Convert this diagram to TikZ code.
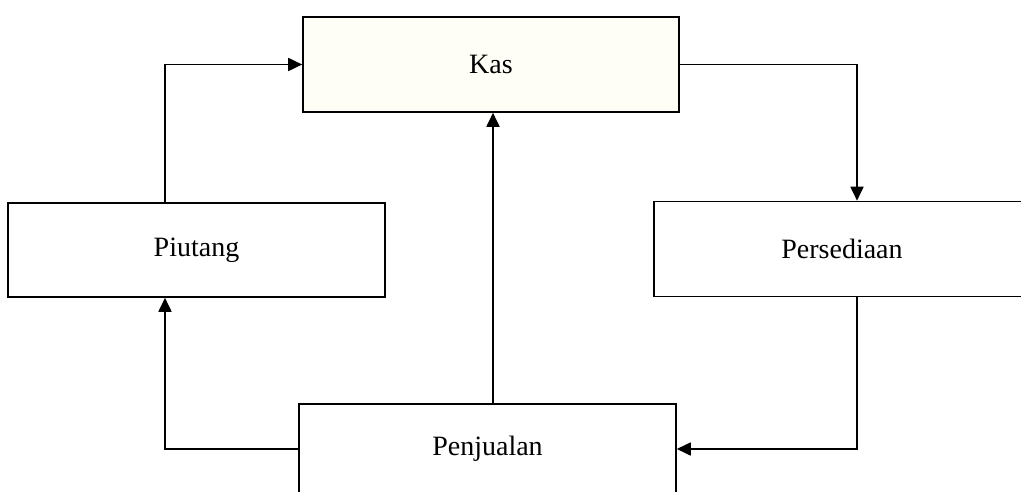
\documentclass[tikz,border=0pt]{standalone}
\usepackage{fontspec}
\setmainfont{Liberation Serif}
\usetikzlibrary{arrows.meta}
\definecolor{kascream}{RGB}{254,253,246}
\begin{document}
\begin{tikzpicture}[x=1pt,y=-1pt,
  box/.style={draw=black,line width=1.6pt,fill=white,inner sep=0pt,
    font=\fontsize{28}{34}\selectfont},
  flow/.style={draw=black,line width=1.8pt,-{Triangle[length=14pt,width=13pt]}}]
\useasboundingbox (0,0) rectangle (1021,492);
\node[box, fill=kascream, minimum width=376pt, minimum height=95pt] (kas) at (491,64.5) {Kas};
\node[box, minimum width=377pt, minimum height=94pt] (piutang) at (196.5,250) {Piutang};
\node[box, minimum width=376pt, minimum height=95pt] (pers) at (842,249) {Persediaan};
\node[box, minimum width=377pt, minimum height=90pt] (pen) at (487.5,449) {Penjualan};
\coordinate (cl) at (165,0);
\coordinate (cr) at (857,0);
\coordinate (cm) at (493,0);
\draw[flow] (cl |- piutang.north) -- (cl |- kas.west) -- (kas.west);
\draw[flow] (kas.east) -- (cr |- kas.east) -- (cr |- pers.north);
\draw[flow] (cr |- pers.south) -- (cr |- pen.east) -- (pen.east);
\draw[flow] (pen.west) -- (cl |- pen.west) -- (cl |- piutang.south);
\draw[flow] (cm |- pen.north) -- (cm |- kas.south);
\end{tikzpicture}
\end{document}
